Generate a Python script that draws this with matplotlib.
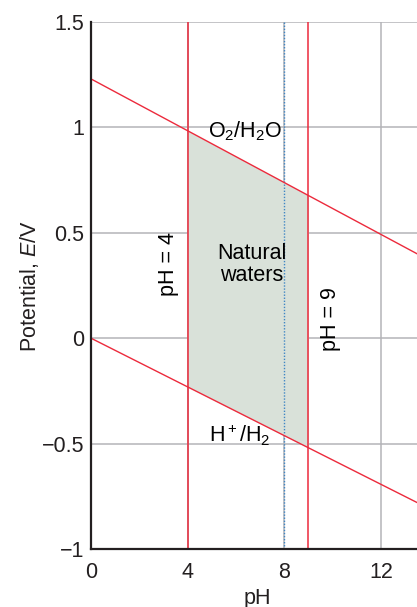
import matplotlib
matplotlib.use('Agg')
import matplotlib.pyplot as plt
import numpy as np

plt.rcParams['font.family'] = ['Liberation Sans', 'DejaVu Sans']
plt.rcParams['mathtext.fontset'] = 'custom'
plt.rcParams['mathtext.rm'] = 'Liberation Sans'
plt.rcParams['mathtext.it'] = 'Liberation Sans:italic'

# boundary lines (pH, E/V)
line_ph = [0, 13.5]
o2_E = [1.23, 0.40]
h2_E = [0.0, -0.78]

ph_limits = [4, 9]          # natural waters range
ph_dotted = 8
x_ticks = [0, 4, 8, 12]
y_ticks = [-1, -0.5, 0, 0.5, 1, 1.5]
y_tick_labels = ['\u22121', '\u22120.5', '0', '0.5', '1', '1.5']

red = '#ec2a3c'
grey = '#b4b4b8'
fs = 15.5

fig = plt.figure(figsize=(4.17, 6.07), dpi=100)
ax = fig.add_axes([91 / 417, 58 / 607, 326 / 417, 527 / 607])
ax.set_xlim(0, 13.49)
ax.set_ylim(-1, 1.5)

# grid
for x in x_ticks[1:]:
    ax.axvline(x, color=grey, lw=1.1, zorder=1)
for y in y_ticks[1:]:
    ax.axhline(y, color=grey, lw=1.1, zorder=1)

# natural waters region
fill_ph = np.array(ph_limits)
ax.fill_between(fill_ph, np.interp(fill_ph, line_ph, h2_E), np.interp(fill_ph, line_ph, o2_E),
                color='#d9e1d9', lw=0, zorder=2)

ax.plot(line_ph, o2_E, color=red, lw=1.0, zorder=4)
ax.plot(line_ph, h2_E, color=red, lw=1.0, zorder=4)
for p in ph_limits:
    ax.axvline(p, color=red, lw=1.1, zorder=4)
ax.axvline(ph_dotted, color='#3f86c4', lw=1.0, ls=(0, (1, 1.2)), zorder=3)

ax.text(6.37, 0.98, 'O$_2$/H$_2$O', fontsize=fs, ha='center', va='center', zorder=5)
ax.text(6.66, 0.35, 'Natural\nwaters', fontsize=fs, ha='center', va='center',
        linespacing=1.05, zorder=5)
ax.text(6.16, -0.46, 'H$^+$/H$_2$', fontsize=fs, ha='center', va='center', zorder=5)
ax.text(3.2, 0.35, 'pH = 4', fontsize=fs, ha='center', va='center', rotation=90, zorder=5)
ax.text(9.9, 0.09, 'pH = 9', fontsize=fs, ha='center', va='center', rotation=90, zorder=5)

ax.set_xticks(x_ticks)
ax.set_yticks(y_ticks)
ax.set_yticklabels(y_tick_labels)
ax.tick_params(axis='both', length=0, labelsize=fs, colors='#231f20')
ax.tick_params(axis='x', pad=9)
ax.tick_params(axis='y', pad=5)

for s in ['top', 'right']:
    ax.spines[s].set_visible(False)
for s in ['left', 'bottom']:
    ax.spines[s].set_linewidth(1.6)
    ax.spines[s].set_color('#231f20')
    ax.spines[s].set_zorder(6)

ax.set_xlabel('pH', fontsize=fs, color='#231f20')
ax.xaxis.set_label_coords(0.51, -0.093)
ax.xaxis.label.set_va('center')
ax.set_ylabel('Potential, $\\it{E}$/V', fontsize=fs, color='#231f20')
ax.yaxis.set_label_coords(-0.19, 0.5)
ax.yaxis.label.set_va('center')

fig.savefig('out.png', dpi=100)
